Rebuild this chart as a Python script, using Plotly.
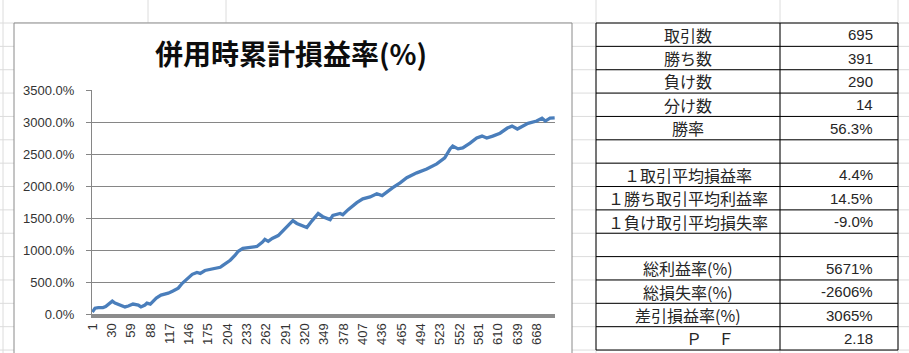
import plotly.graph_objects as go

# ---------------- data ----------------
trade_no = [1, 5, 10, 17, 21, 28, 31, 35, 43, 50, 55, 62, 70, 74, 80, 83, 88, 92, 97,
            104, 115, 122, 130, 136, 143, 151, 158, 163, 170, 182, 193, 197, 208, 215,
            220, 227, 238, 248, 256, 260, 265, 271, 280, 287, 295, 302, 308, 316, 323,
            331, 340, 347, 358, 362, 373, 377, 385, 398, 407, 418, 428, 436, 445, 452,
            463, 473, 488, 503, 518, 530, 538, 542, 550, 557, 568, 578, 586, 593, 602,
            613, 624, 631, 639, 648, 655, 668, 676, 681, 688, 695]
cum_pct = [30, 90, 100, 100, 115, 170, 200, 170, 140, 110, 125, 155, 140, 110, 140, 170,
           155, 200, 250, 295, 325, 360, 405, 480, 545, 620, 650, 635, 680, 710, 730, 760,
           840, 915, 980, 1025, 1040, 1055, 1120, 1165, 1135, 1180, 1225, 1305, 1380,
           1460, 1415, 1380, 1350, 1460, 1570, 1520, 1475, 1540, 1570, 1550, 1630, 1740,
           1800, 1830, 1880, 1850, 1925, 1975, 2050, 2130, 2205, 2265, 2345, 2440, 2580,
           2625, 2580, 2595, 2670, 2750, 2780, 2750, 2780, 2825, 2905, 2935, 2890, 2935,
           2980, 3015, 3060, 3015, 3060, 3065]

x_ticks = list(range(1, 696, 29))
y_ticks = [0, 500, 1000, 1500, 2000, 2500, 3000, 3500]
y_tick_text = [f"{v:.1f}%" for v in y_ticks]

title_text = "併用時累計損益率(%)"

table_labels = ["取引数", "勝ち数", "負け数", "分け数", "勝率", "",
                "１取引平均損益率", "１勝ち取引平均利益率", "１負け取引平均損失率", "",
                "総利益率(%)", "総損失率(%)", "差引損益率(%)", "Ｐ　Ｆ"]
table_values = ["695", "391", "290", "14", "56.3%", "",
                "4.4%", "14.5%", "-9.0%", "",
                "5671%", "-2606%", "3065%", "2.18"]

# ---------------- geometry helpers ----------------
W, H = 909, 353
def px(x):
    return x / W
def py(y):
    return 1 - y / H

fig = go.Figure()
fig.add_trace(go.Scatter(
    x=trade_no, y=cum_pct, mode="lines",
    line=dict(color="#4A7EBB", width=3.3),
    showlegend=False, hoverinfo="skip"))

shapes = []
grid_c = "#dcdcdc"
row_top = 23.0
row_h = 23.36
row_ys = [row_top + i * row_h for i in range(15)]
# spreadsheet gridlines
for yv in row_ys:
    shapes.append(dict(type="line", xref="paper", yref="paper", x0=0, x1=1,
                       y0=py(yv), y1=py(yv), line=dict(color=grid_c, width=1), layer="below"))
for xv in [3, 148, 226, 596, 780, 898]:
    shapes.append(dict(type="line", xref="paper", yref="paper", x0=px(xv), x1=px(xv),
                       y0=0, y1=1, line=dict(color=grid_c, width=1), layer="below"))
# chart area
shapes.append(dict(type="rect", xref="paper", yref="paper", x0=px(14), x1=px(572),
                   y0=py(360), y1=py(23), fillcolor="white",
                   line=dict(color="#8a8a8a", width=1), layer="below"))
# table borders
tx0, tx1, tx2 = 596, 780, 898
shapes.append(dict(type="rect", xref="paper", yref="paper", x0=px(tx0), x1=px(tx2),
                   y0=py(row_ys[-1]), y1=py(row_ys[0]), line=dict(color="black", width=1)))
shapes.append(dict(type="line", xref="paper", yref="paper", x0=px(tx1), x1=px(tx1),
                   y0=py(row_ys[-1]), y1=py(row_ys[0]), line=dict(color="black", width=1)))
for yv in row_ys[1:-1]:
    shapes.append(dict(type="line", xref="paper", yref="paper", x0=px(tx0), x1=px(tx2),
                       y0=py(yv), y1=py(yv), line=dict(color="black", width=1)))

annotations = [dict(text="<b>" + title_text + "</b>", xref="paper", yref="paper",
                    x=px(291), y=py(53), showarrow=False, xanchor="center", yanchor="middle",
                    font=dict(family="Noto Sans CJK JP", size=28, color="#0d0d0d"))]
for i, (lab, val) in enumerate(zip(table_labels, table_values)):
    yc = py(row_ys[i] + row_h / 2)
    if lab:
        annotations.append(dict(text=lab, xref="paper", yref="paper", x=px((tx0 + tx1) / 2),
                                y=yc, showarrow=False, xanchor="center", yanchor="middle",
                                xshift=22 if lab.startswith("Ｐ") else 0,
                                font=dict(family="Noto Sans CJK JP", size=16, color="#262626")))
    if val:
        annotations.append(dict(text=val, xref="paper", yref="paper", x=px(875),
                                y=yc, showarrow=False, xanchor="right", yanchor="middle",
                                font=dict(family="Liberation Sans", size=15, color="#262626")))

fig.update_layout(
    width=W, height=H, autosize=False,
    margin=dict(l=0, r=0, t=0, b=0, pad=0),
    paper_bgcolor="white", plot_bgcolor="rgba(0,0,0,0)",
    shapes=shapes, annotations=annotations,
    xaxis=dict(domain=[px(92), px(555)], range=[0.5, 695.5], tickmode="array",
               tickvals=x_ticks, ticktext=[str(v) for v in x_ticks], tickangle=-90,
               showgrid=False, zeroline=False, showline=True, linecolor="#8c8c8c",
               linewidth=4, ticks="", fixedrange=True, automargin=False,
               tickfont=dict(family="Liberation Sans", size=13, color="#333")),
    yaxis=dict(domain=[py(314), py(90)], range=[0, 3500], tickmode="array",
               tickvals=y_ticks, ticktext=y_tick_text, showgrid=True, gridcolor="#868686",
               gridwidth=1, zeroline=False, showline=True, linecolor="#868686", linewidth=1,
               ticks="outside", ticklen=5, tickcolor="#868686", ticklabelstandoff=9,
               automargin=False, fixedrange=True,
               tickfont=dict(family="Liberation Sans", size=13, color="#333")),
)

fig.write_html("out.html")
